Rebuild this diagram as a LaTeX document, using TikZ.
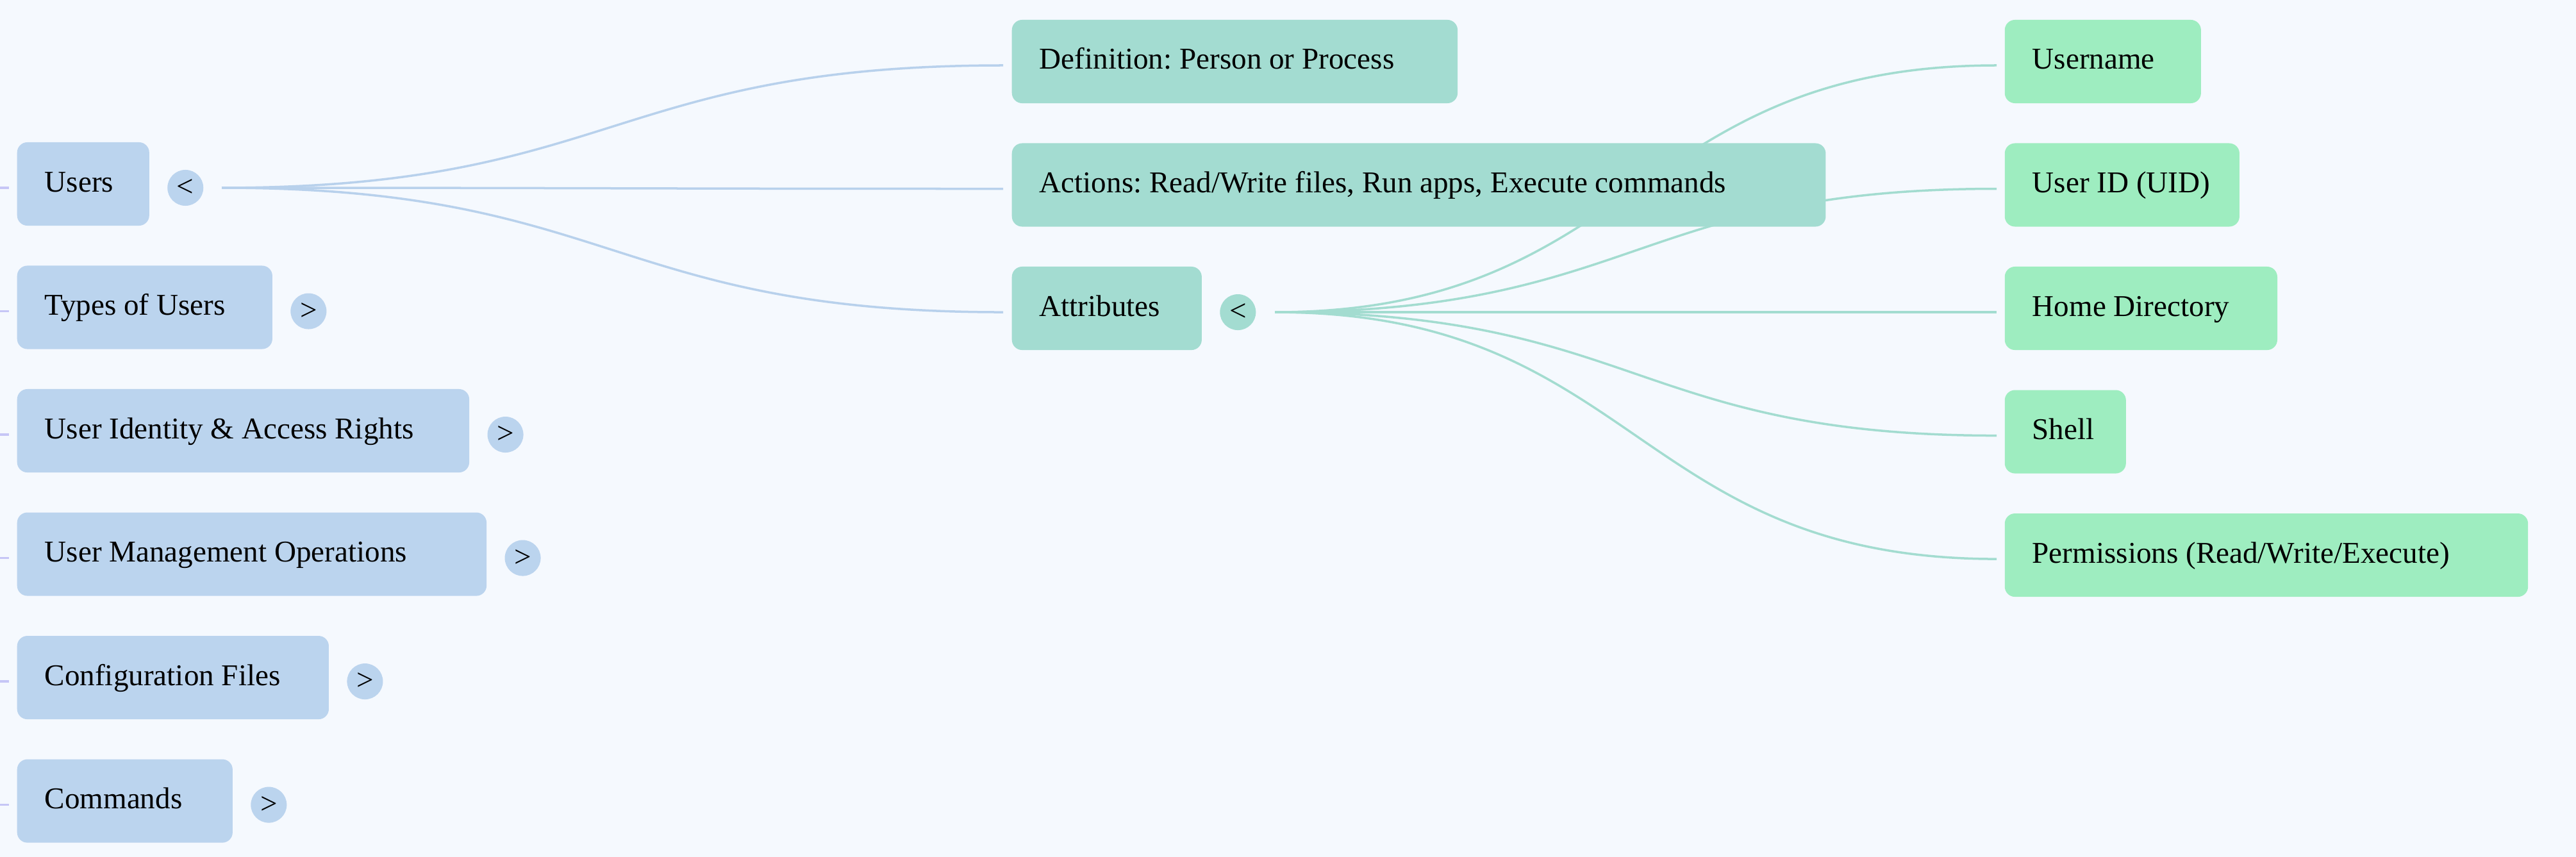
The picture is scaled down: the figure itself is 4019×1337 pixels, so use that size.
\documentclass[tikz,border=0pt]{standalone}
\usepackage{fontspec}
\setmainfont{Liberation Serif}
\usetikzlibrary{positioning,backgrounds}

\definecolor{bgcol}{HTML}{F5F9FE}
\definecolor{ublue}{HTML}{BBD4EE}
\definecolor{uteal}{HTML}{A3DCD1}
\definecolor{ugreen}{HTML}{9EEDC0}
\definecolor{lblue}{HTML}{B8D1EC}
\definecolor{lteal}{HTML}{A3DCD0}
\definecolor{lstub}{HTML}{C6C6F6}

% box text: fixed width, flush left
\newcommand{\boxtxt}[2]{\makebox[#1][l]{#2}}

\tikzset{
  mbox/.style={rounded corners=0.16cm, minimum height=1.3cm, inner xsep=0.43cm,
    inner ysep=0pt, text height=0.34cm, text depth=0.1cm},
  bluebox/.style={mbox, fill=ublue},
  tealbox/.style={mbox, fill=uteal},
  greenbox/.style={mbox, fill=ugreen},
  knob/.style={circle, minimum size=0.56cm, inner sep=0pt, yshift=-0.06cm},
  uline/.style={lblue, line width=0.035cm},
  tline/.style={lteal, line width=0.035cm},
  stub/.style={lstub, line width=0.035cm}
}

\begin{document}
\begin{tikzpicture}[x=0.01cm, y=-0.01cm, font=\fontsize{13.4pt}{16pt}\selectfont\frenchspacing]
    \def\gap{0.61cm}
    \useasboundingbox (0,0) rectangle (4019,1337);

    % left column
    \node[bluebox, anchor=west] (users) at (26,287) {\boxtxt{1.20cm}{Users}};
    \node[bluebox, below right=\gap and 0cm of users.south west] (types) {\boxtxt{3.12cm}{Types of Users}};
    \node[bluebox, below right=\gap and 0cm of types.south west] (ident) {\boxtxt{6.19cm}{User Identity \& Access Rights}};
    \node[bluebox, below right=\gap and 0cm of ident.south west] (mgmt) {\boxtxt{6.46cm}{User Management Operations}};
    \node[bluebox, below right=\gap and 0cm of mgmt.south west] (conf) {\boxtxt{4.00cm}{Configuration Files}};
    \node[bluebox, below right=\gap and 0cm of conf.south west] (cmds) {\boxtxt{2.50cm}{Commands}};

    \foreach \n/\s in {users/<, types/>, ident/>, mgmt/>, conf/>, cmds/>}
        \node[knob, fill=ublue, right=0.27cm of \n] (\n-c) {\s};

    % middle column
    \node[tealbox, anchor=west] (def) at (1578,96) {\boxtxt{6.09cm}{Definition: Person or Process}};
    \node[tealbox, below right=\gap and 0cm of def.south west] (act) {\boxtxt{11.83cm}{Actions: Read/Write files, Run apps, Execute commands}};
    \node[tealbox, below right=\gap and 0cm of act.south west] (attr) {\boxtxt{2.10cm}{Attributes}};
    \node[knob, fill=uteal, right=0.27cm of attr] (attr-c) {<};

    % right column
    \node[greenbox, anchor=west] (uname) at (3127,96) {\boxtxt{2.20cm}{Username}};
    \node[greenbox, below right=\gap and 0cm of uname.south west] (uid) {\boxtxt{2.80cm}{User ID (UID)}};
    \node[greenbox, below right=\gap and 0cm of uid.south west] (home) {\boxtxt{3.39cm}{Home Directory}};
    \node[greenbox, below right=\gap and 0cm of home.south west] (shell) {\boxtxt{1.03cm}{Shell}};
    \node[greenbox, below right=\gap and 0cm of shell.south west] (perm) {\boxtxt{7.30cm}{Permissions (Read/Write/Execute)}};

    \coordinate (usersout) at ([xshift=0.28cm]users-c.east);
    \coordinate (attrout) at ([xshift=0.29cm]attr-c.east);

    \begin{pgfonlayer}{background}
        \fill[bgcol] (0,0) rectangle (4019,1337);
        \foreach \n in {def,act,attr}
            \draw[uline] (usersout) .. controls +(611,0) and +(-611,0) .. ([xshift=-0.13cm, yshift=-0.06cm]\n.west);
        \foreach \n in {uname,uid,home,shell,perm}
            \draw[tline] (attrout) .. controls +(565,0) and +(-565,0) .. ([xshift=-0.12cm, yshift=-0.06cm]\n.west);
        \foreach \n in {users,types,ident,mgmt,conf,cmds}
            \draw[stub] ([xshift=-0.12cm, yshift=-0.06cm]\n.west) -- ++(-0.14cm,0);
    \end{pgfonlayer}
\end{tikzpicture}
\end{document}
